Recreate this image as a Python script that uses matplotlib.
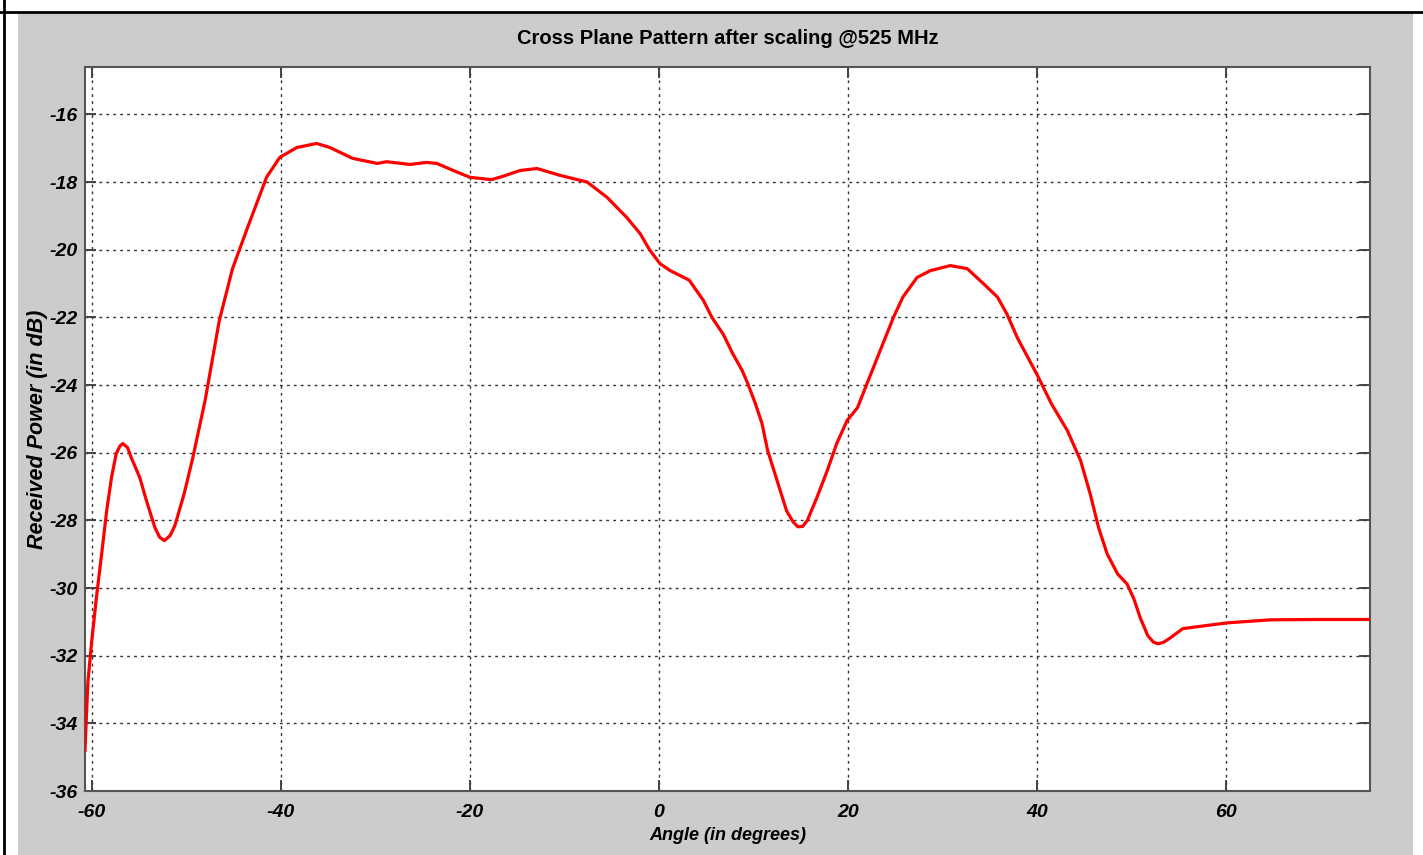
import matplotlib.pyplot as plt
from matplotlib.lines import Line2D
from matplotlib.patches import Rectangle

# angle (deg) and received power (dB)
angle = [-60.7, -60.4, -60.0, -59.5, -58.9, -58.4, -57.9, -57.4, -57.0, -56.7, -56.2, -55.8,
         -54.9, -54.2, -53.3, -52.8, -52.3, -51.7, -51.2, -50.2, -49.3, -48.0, -46.5, -45.1,
         -43.5, -41.5, -40.1, -38.3, -36.2, -34.8, -32.4, -29.8, -28.8, -26.3,
         -24.6, -23.5, -21.4, -20.0, -17.7, -16.5, -14.7, -12.9, -10.5, -7.6,
         -5.5, -3.4, -2.0, -1.0, 0.1, 1.2, 2.2, 3.2, 4.7, 5.6,
         6.8, 7.8, 8.8, 9.4, 10.2, 10.9, 11.5, 12.5, 13.5, 14.2, 14.7,
         15.2, 15.7, 16.7, 17.8, 18.8, 19.9, 21.0, 22.0, 23.4, 24.8, 25.8,
         27.3, 28.7, 30.8, 32.6, 34.3, 35.8, 36.8, 37.9, 40.0, 41.5,
         43.2, 44.6, 45.6, 46.5, 47.4, 48.5, 49.5, 50.2, 50.9, 51.7,
         52.3, 52.8, 53.4, 54.1, 55.4, 57.6, 60.1, 64.7, 70.0, 75.2]
power = [-34.8, -32.8, -31.6, -30.3, -28.9, -27.7, -26.74, -26.03, -25.8, -25.73, -25.85, -26.15,
         -26.74, -27.42, -28.22, -28.5, -28.6, -28.45, -28.16, -27.2, -26.15, -24.46, -22.1, -20.56,
         -19.34, -17.86, -17.27, -16.98, -16.86, -16.98, -17.3, -17.45, -17.4, -17.48,
         -17.42, -17.45, -17.7, -17.86, -17.93, -17.83, -17.66, -17.6, -17.8, -18.0,
         -18.45, -19.05, -19.52, -20.0, -20.41, -20.62, -20.76, -20.9, -21.5, -22.0,
         -22.5, -23.07, -23.57, -23.96, -24.55, -25.14, -25.94, -26.83, -27.72, -28.05, -28.19,
         -28.18, -28.0, -27.33, -26.53, -25.73, -25.05, -24.67, -23.96, -22.98, -22.0, -21.4,
         -20.82, -20.62, -20.47, -20.56, -21.0, -21.4, -21.9, -22.6, -23.7, -24.55,
         -25.35, -26.24, -27.21, -28.22, -28.99, -29.58, -29.88, -30.3, -30.88, -31.41,
         -31.6, -31.65, -31.6, -31.47, -31.2, -31.12, -31.03, -30.94, -30.93, -30.93]

xticks = [-60, -40, -20, 0, 20, 40, 60]
yticks = [-36, -34, -32, -30, -28, -26, -24, -22, -20, -18, -16]

plt.rcParams['font.family'] = ['Liberation Sans', 'DejaVu Sans']
plt.rcParams['axes.unicode_minus'] = False

W, H = 1423, 855
fig = plt.figure(figsize=(W / 100, H / 100), dpi=100, facecolor='white')

# grey panel and black frame lines
fig.add_artist(Rectangle((18 / W, 0), (1413 - 18) / W, 1 - 13 / H,
                         transform=fig.transFigure, facecolor='#cccccc',
                         edgecolor='none', zorder=0))
fig.add_artist(Line2D([0, 1], [1 - 12 / H, 1 - 12 / H], transform=fig.transFigure,
                      color='black', lw=2))
fig.add_artist(Line2D([4 / W, 4 / W], [0, 1], transform=fig.transFigure,
                      color='black', lw=2))

ax = fig.add_axes([85 / W, 1 - 791 / H, (1370 - 85) / W, (791 - 67) / H])
ax.set_facecolor('white')
ax.plot(angle, power, color='red', lw=2.3, zorder=3)

ax.set_xlim(-60.7, 75.2)
ax.set_ylim(-36, -14.6)
ax.set_xticks(xticks)
ax.set_yticks(yticks)
ax.grid(True, color='#333333', linestyle=(0, (2, 3)), lw=1)
ax.tick_params(direction='in', length=8, width=1.4, color='#444444',
               top=True, right=True, labelsize=14)
ax.tick_params(axis='x', pad=9)
ax.tick_params(axis='y', pad=5)
for lab in ax.get_xticklabels() + ax.get_yticklabels():
    lab.set_fontweight('bold')
    lab.set_fontstyle('italic')
for s in ax.spines.values():
    s.set_color('#555555')
    s.set_linewidth(1.5)

ax.set_xlabel('Angle (in degrees)', fontsize=13, fontweight='bold',
              fontstyle='italic', labelpad=5)
ax.set_ylabel('Received Power (in dB)', fontsize=15.5, fontweight='bold',
              fontstyle='italic', va='center')
ax.yaxis.set_label_coords(-0.037, 0.5)
fig.text(0.5115, 1 - 38 / H, 'Cross Plane Pattern after scaling @525 MHz',
         ha='center', va='center', fontsize=14.5, fontweight='bold')

fig.savefig('out.png', dpi=100, facecolor=fig.get_facecolor())
